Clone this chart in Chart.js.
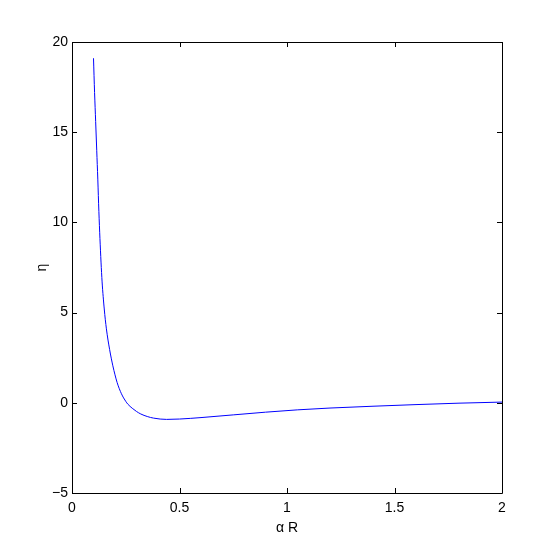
<!DOCTYPE html>
<html>
<head>
<meta charset="utf-8">
<script src="https://cdn.jsdelivr.net/npm/chart.js@4"></script>
<style>
  html, body { margin: 0; padding: 0; background: #fff; }
  #etaChart { display: block; }
</style>
</head>
<body>
<canvas id="etaChart" width="554" height="554"></canvas>
<script>
// alpha R values
const alphaR = [0.10, 0.105, 0.11, 0.115, 0.12, 0.125, 0.13, 0.135, 0.14, 0.15, 0.16, 0.175, 0.19,
    0.20, 0.21, 0.22, 0.23, 0.24, 0.25, 0.26, 0.28, 0.30, 0.32, 0.35, 0.38, 0.44, 0.50, 0.60, 0.75,
    0.90, 1.05, 1.20, 1.40, 1.60, 1.80, 2.00];
// eta values
const eta = [19.1, 17.2, 15.6, 14.0, 12.4, 10.6, 9.1, 7.8, 6.7, 5.2, 4.1, 2.95, 2.05,
    1.55, 1.12, 0.78, 0.5, 0.27, 0.08, -0.08, -0.3, -0.48, -0.62, -0.76, -0.85, -0.92, -0.9, -0.82, -0.67,
    -0.52, -0.39, -0.29, -0.19, -0.1, -0.02, 0.04];

const xTicks = [0, 0.5, 1, 1.5, 2];
const yTicks = [-5, 0, 5, 10, 15, 20];

const fontFamily = '"Liberation Sans", Arial, sans-serif';

// box round the axes with inward ticks on all four sides (matlab style)
const boxPlugin = {
    id: 'boxTicks',
    afterDraw(chart) {
        const { ctx, chartArea: a } = chart;
        const xs = chart.scales.x, ys = chart.scales.y;
        const len = 5;
        ctx.save();
        ctx.strokeStyle = '#000';
        ctx.lineWidth = 1;
        ctx.beginPath();
        ctx.rect(a.left + 0.5, a.top + 0.5, a.right - a.left, a.bottom - a.top);
        xTicks.forEach(v => {
            const px = Math.round(xs.getPixelForValue(v)) + 0.5;
            ctx.moveTo(px, a.bottom);
            ctx.lineTo(px, a.bottom - len);
            ctx.moveTo(px, a.top);
            ctx.lineTo(px, a.top + len);
        });
        yTicks.forEach(v => {
            const py = Math.round(ys.getPixelForValue(v)) + 0.5;
            ctx.moveTo(a.left, py);
            ctx.lineTo(a.left + len, py);
            ctx.moveTo(a.right, py);
            ctx.lineTo(a.right - len, py);
        });
        ctx.stroke();
        ctx.restore();
    }
};

const ctx = document.getElementById('etaChart').getContext('2d');
new Chart(ctx, {
    type: 'line',
    data: {
        datasets: [{
            data: alphaR.map((x, i) => ({ x: x, y: eta[i] })),
            borderColor: 'rgb(0, 0, 255)',
            borderWidth: 1,
            pointRadius: 0,
            fill: false,
            cubicInterpolationMode: 'monotone'
        }]
    },
    options: {
        responsive: false,
        animation: false,
        layout: { padding: { left: 0, top: 42, right: 52, bottom: 0 } },
        plugins: {
            legend: { display: false },
            tooltip: { enabled: false }
        },
        scales: {
            x: {
                type: 'linear',
                min: 0,
                max: 2,
                afterFit: scale => { scale.height = 61; },
                afterBuildTicks: scale => { scale.ticks = xTicks.map(v => ({ value: v })); },
                grid: { display: false, drawTicks: false },
                border: { display: false },
                ticks: {
                    padding: 7,
                    color: '#000',
                    font: { family: fontFamily, size: 14 },
                    maxRotation: 0,
                    callback: v => String(v)
                },
                title: {
                    display: true,
                    text: 'α R',
                    color: '#000',
                    font: { family: fontFamily, size: 14 },
                    padding: { top: 0, bottom: 17 }
                }
            },
            y: {
                type: 'linear',
                min: -5,
                max: 20,
                afterFit: scale => { scale.width = 72; },
                afterBuildTicks: scale => { scale.ticks = yTicks.map(v => ({ value: v })); },
                grid: { display: false, drawTicks: false },
                border: { display: false },
                ticks: {
                    padding: 4,
                    color: '#000',
                    font: { family: fontFamily, size: 14 },
                    callback: v => String(v).replace('-', '\u2212')
                },
                title: {
                    display: true,
                    text: 'η',
                    color: '#000',
                    font: { family: fontFamily, size: 14 },
                    padding: { top: 34, bottom: 0 }
                }
            }
        }
    },
    plugins: [boxPlugin]
});
</script>
</body>
</html>
